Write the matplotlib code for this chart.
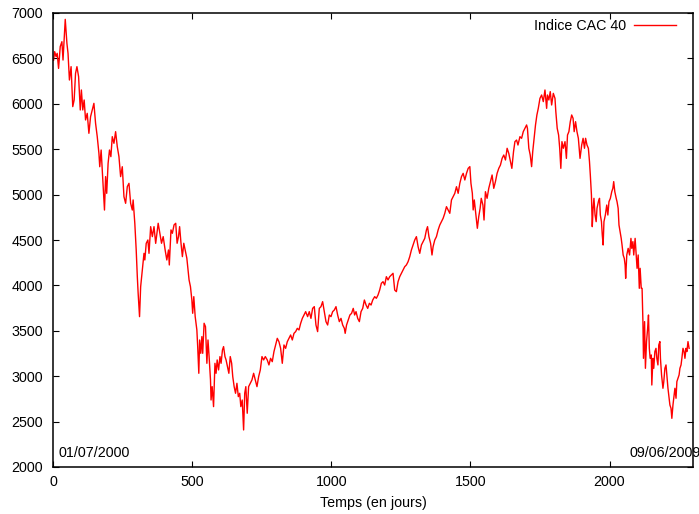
import matplotlib
matplotlib.use("Agg")
import matplotlib.pyplot as plt

# Indice CAC 40 (jour de cotation, points)
jours = [
    2, 6, 11, 15, 20, 26, 32, 36, 42, 44, 50, 54, 59, 65, 71, 76, 81, 86, 92, 98,
    102, 107, 112, 117, 123, 129, 135, 141, 147, 153, 159, 165, 168, 173, 179, 185, 189, 193, 198, 203,
    208, 213, 219, 225, 231, 237, 243, 249, 255, 261, 267, 273, 279, 285, 288, 294, 299, 303, 306, 311,
    315, 321, 327, 330, 335, 341, 345, 351, 357, 363, 369, 375,
    378, 384, 390, 396, 403, 409, 415, 418, 424, 429, 435, 441, 446, 451, 455, 460, 465, 470, 475, 481,
    484, 489, 494, 499, 502, 506, 511, 517, 520, 524, 527, 531, 535, 538, 543, 548, 553, 557, 561, 566,
    568, 572, 577, 582, 586, 590, 595, 600, 604, 609, 613, 618, 622, 627, 632, 637, 642, 646, 651, 656,
    661, 666, 671, 675, 680, 685, 689, 693, 698, 703, 709, 715, 721, 727, 733, 739, 745, 751, 757, 763,
    770, 776, 782, 788, 794, 800, 806, 812, 818, 824, 830, 836, 842, 848, 854, 860, 866, 872, 878, 884,
    890, 896, 902, 908, 915, 921, 927, 933, 939, 945, 951, 957, 963, 969, 975, 981, 987, 993, 999, 1005,
    1011, 1017, 1023, 1029, 1035, 1041, 1047, 1050, 1055, 1061, 1067, 1073, 1079, 1084, 1089, 1095, 1101, 1107, 1113, 1119,
    1125, 1131, 1137, 1143, 1149,
    1156, 1162, 1168, 1174, 1180, 1186, 1192, 1198, 1204, 1210, 1216, 1222, 1228, 1234, 1240, 1246, 1252, 1258, 1264, 1270,
    1276, 1282, 1288, 1294, 1300, 1306, 1312, 1318, 1324, 1330, 1336, 1342, 1346, 1351, 1357, 1362, 1366, 1372, 1378, 1384,
    1390, 1396, 1402, 1408, 1414, 1420, 1426, 1432, 1438, 1444, 1450, 1456, 1462, 1468, 1474, 1480, 1486, 1492, 1498, 1502,
    1507, 1510, 1514, 1519, 1525, 1530, 1535,
    1539, 1545, 1549, 1554, 1560, 1566, 1572, 1578, 1584, 1590, 1596, 1602, 1608, 1614, 1620, 1626, 1632, 1638, 1644, 1649,
    1655, 1660, 1666, 1671, 1678, 1684, 1690, 1696, 1702, 1705, 1710, 1715, 1720, 1724, 1729, 1734, 1739, 1744, 1750, 1756,
    1762, 1768, 1774, 1777, 1782, 1787, 1792, 1798, 1804, 1807, 1812, 1817, 1821, 1825, 1829, 1834, 1840, 1845, 1849, 1854,
    1859, 1864, 1869, 1873, 1878, 1883, 1888, 1894, 1900, 1905, 1910, 1914, 1919, 1924, 1928, 1931, 1935,
    1938, 1941, 1944, 1948, 1952, 1955, 1960, 1964, 1967, 1971, 1974, 1977, 1980, 1985, 1990, 1994, 1998, 2003, 2008, 2012,
    2015, 2019, 2024, 2027, 2031, 2034, 2038, 2042, 2045, 2049, 2053, 2056, 2058, 2062, 2067, 2072, 2077, 2080, 2084, 2087,
    2092, 2096, 2099, 2103, 2107, 2110, 2114, 2117, 2120, 2122, 2126, 2129, 2133, 2137, 2140, 2143, 2146, 2150, 2152, 2156,
    2159, 2163, 2167, 2170, 2174, 2177, 2181, 2183, 2187, 2192, 2195, 2199, 2203, 2206, 2210, 2214, 2217, 2221, 2224, 2228,
    2232, 2235, 2239, 2242, 2246, 2250, 2253, 2257, 2260, 2264, 2268, 2271, 2275, 2278, 2282, 2286,
]

cac40 = [
    6480, 6574, 6520, 6556, 6390, 6630, 6684, 6482, 6813, 6930, 6666, 6556, 6262, 6409, 5969, 6042, 6335, 6409, 6299, 5932,
    6152, 5932, 6042, 5822, 5895, 5675, 5858, 5932, 6005, 5785, 5638, 5455, 5307, 5491, 5161, 4830, 5198, 5014, 5344, 5491,
    5418, 5638, 5565, 5693, 5528, 5418, 5198, 5307, 4977, 4904, 5088, 5124, 4904, 4830, 4941, 4684, 4390, 4096, 3913, 3656,
    3986, 4170, 4353, 4280, 4463, 4500, 4353, 4647, 4537, 4647, 4463, 4610,
    4684, 4574, 4464, 4537, 4390, 4280, 4390, 4225, 4611, 4574, 4666, 4684, 4464, 4537, 4647, 4464, 4317, 4464, 4390, 4299,
    4207, 4060, 3986, 3840, 3693, 3876, 3656, 3509, 3326, 3032, 3399, 3252, 3436, 3252, 3583, 3546, 3142, 3399, 3216, 2959,
    2738, 2885, 2665, 3142, 3032, 3179, 3069, 3216, 3142, 3289, 3326, 3216, 3179, 3106, 3032, 3216, 3142, 2995, 2885, 2812,
    2922, 2775, 2812, 2665, 2738, 2408, 2812, 2885, 2592, 2885, 2922, 2959, 3032, 2959, 2885, 2995, 3069, 3216, 3179, 3216,
    3179, 3124, 3197, 3160, 3270, 3344, 3417, 3380, 3307, 3142, 3344, 3307, 3380, 3417, 3454, 3399, 3472, 3491, 3527, 3509,
    3582, 3637, 3674, 3711, 3656, 3711, 3637, 3747, 3766, 3564, 3491, 3747, 3766, 3821, 3711, 3601, 3564, 3674, 3656, 3711,
    3729, 3766, 3674, 3601, 3637, 3564, 3527, 3472, 3564, 3619, 3674, 3692, 3747, 3674, 3711, 3637, 3601, 3711, 3747, 3839,
    3784, 3747, 3803, 3784, 3839,
    3876, 3858, 3894, 3949, 4023, 4041, 4004, 4096, 4060, 4096, 4115, 4133, 3949, 3931, 4041, 4096, 4133, 4170, 4206, 4225,
    4261, 4316, 4390, 4445, 4500, 4537, 4427, 4353, 4445, 4482, 4518, 4610, 4647, 4537, 4463, 4335, 4427, 4500, 4537, 4610,
    4665, 4702, 4739, 4794, 4867, 4831, 4794, 4941, 4977, 5014, 5087, 5014, 5124, 5198, 5234, 5161, 5234, 5289, 5308, 5124,
    5014, 4831, 4941, 4794, 4629, 4757, 4849,
    4959, 4885, 4720, 5032, 4959, 5069, 5143, 5216, 5069, 5143, 5234, 5289, 5326, 5399, 5436, 5381, 5510, 5454, 5363, 5289,
    5473, 5583, 5601, 5546, 5638, 5620, 5693, 5730, 5767, 5730, 5510, 5436, 5308, 5473, 5620, 5767, 5877, 5950, 6060, 6097,
    6024, 6152, 5950, 6097, 6042, 6134, 5987, 6115, 6060, 5914, 5730, 5656, 5510, 5289, 5583, 5510, 5583, 5399, 5656, 5693,
    5803, 5877, 5840, 5693, 5803, 5693, 5620, 5399, 5546, 5620, 5510, 5620, 5546, 5510, 5363, 5216, 4995,
    4647, 4849, 4959, 4775, 4702, 4849, 4922, 4959, 4775, 4702, 4555, 4445, 4702, 4775, 4885, 4775, 4922, 4959, 5032, 5069,
    5143, 5032, 4959, 4922, 4849, 4665, 4592, 4518, 4445, 4335, 4298, 4225, 4078, 4335, 4408, 4335, 4518, 4408, 4482, 4335,
    4518, 4335, 4188, 4335, 3968, 4188, 3968, 3968, 3601, 3197, 3601, 3087, 3381, 3527, 3674, 3307, 3197, 3234, 2903, 3197,
    3087, 3271, 3307, 3197, 3124, 3344, 3381, 3197, 3014, 2867, 2940, 3087, 3124, 3014, 2867, 2757, 2683, 2646, 2536, 2683,
    2793, 2867, 2757, 2940, 2977, 3014, 3087, 3124, 3197, 3307, 3271, 3197, 3307, 3271, 3381, 3307,
]

etiquette = "Indice CAC 40"
date_debut = "01/07/2000"
date_fin = "09/06/2009"
xticks = [0, 500, 1000, 1500, 2000]
yticks = [2000, 2500, 3000, 3500, 4000, 4500, 5000, 5500, 6000, 6500, 7000]

plt.rcParams["font.family"] = ["Liberation Sans", "DejaVu Sans"]
plt.rcParams["font.size"] = 10.3

fig = plt.figure(figsize=(6.99, 5.14), dpi=100)
ax = fig.add_axes([53 / 699, 47 / 514, 640 / 699, 454 / 514])

ax.plot(jours, cac40, color="#ff0000", linewidth=1.0, label=etiquette)

ax.set_xlim(0, 2300)
ax.set_ylim(2000, 7000)
ax.set_xticks(xticks)
ax.set_yticks(yticks)
ax.tick_params(direction="in", length=4.3, width=0.8, top=True, right=True, colors="black")
ax.tick_params(axis="x", pad=6)
ax.tick_params(axis="y", pad=7)
for s in ax.spines.values():
    s.set_linewidth(1.1)

ax.set_xlabel("Temps (en jours)", labelpad=5)

# dates de debut et de fin, en bas du cadre
ax.text(18, 2154, date_debut, va="center", ha="left")
ax.text(2070, 2154, date_fin, va="center", ha="left", clip_on=False)

ax.legend(loc="upper right", markerfirst=False, frameon=False,
          handlelength=2.9, handletextpad=0.6, borderpad=0, borderaxespad=0,
          bbox_to_anchor=(0.9734, 0.987))

fig.savefig("out.png", dpi=100)
